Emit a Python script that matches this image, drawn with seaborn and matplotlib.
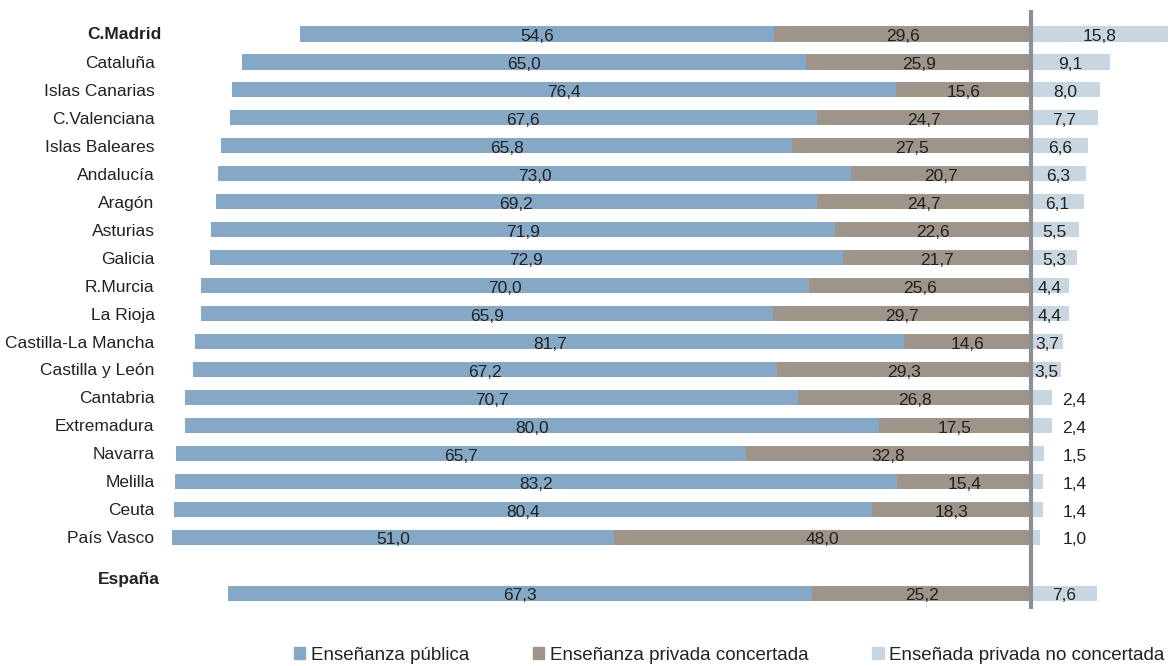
import matplotlib
matplotlib.use("Agg")
import matplotlib.pyplot as plt
import seaborn as sns
import pandas as pd
import numpy as np
from matplotlib.patches import Patch

regions = ["C.Madrid", "Cataluña", "Islas Canarias", "C.Valenciana", "Islas Baleares",
           "Andalucía", "Aragón", "Asturias", "Galicia", "R.Murcia", "La Rioja",
           "Castilla-La Mancha", "Castilla y León", "Cantabria", "Extremadura",
           "Navarra", "Melilla", "Ceuta", "País Vasco", "España"]
publica = [54.6, 65.0, 76.4, 67.6, 65.8, 73.0, 69.2, 71.9, 72.9, 70.0, 65.9,
           81.7, 67.2, 70.7, 80.0, 65.7, 83.2, 80.4, 51.0, 67.3]
concertada = [29.6, 25.9, 15.6, 24.7, 27.5, 20.7, 24.7, 22.6, 21.7, 25.6, 29.7,
              14.6, 29.3, 26.8, 17.5, 32.8, 15.4, 18.3, 48.0, 25.2]
no_concertada = [15.8, 9.1, 8.0, 7.7, 6.6, 6.3, 6.1, 5.5, 5.3, 4.4, 4.4,
                 3.7, 3.5, 2.4, 2.4, 1.5, 1.4, 1.4, 1.0, 7.6]
series_names = ["Enseñanza pública", "Enseñanza privada concertada",
                "Enseñada privada no concertada"]
bold_regions = ["C.Madrid", "España"]

c_pub = "#85a8c6"
c_con = "#9e948a"
c_priv = "#c8d6e2"
txt = "#222222"

sns.set_style("white")
plt.rcParams["font.family"] = ["Liberation Sans", "DejaVu Sans"]

df = pd.DataFrame({"region": regions, "pub": publica, "con": concertada, "priv": no_concertada})
df["neg_total"] = -(df["pub"] + df["con"])
df["neg_con"] = -df["con"]
blank = pd.DataFrame({"region": [" "], "pub": [np.nan], "con": [np.nan], "priv": [np.nan],
                      "neg_total": [np.nan], "neg_con": [np.nan]})
df_all = pd.concat([df.iloc[:-1], blank, df.iloc[-1:]], ignore_index=True)
order = list(df_all["region"])

W, H = 1173, 666
fig = plt.figure(figsize=(W / 100, H / 100), dpi=100)
ax_left = 165
ax = fig.add_axes([ax_left / W, 1 - 609 / H, 1 - ax_left / W, (609 - 10) / H])

kw = dict(data=df_all, y="region", order=order, errorbar=None, width=0.54,
          linewidth=0, ax=ax, orient="h", saturation=1)
sns.barplot(x="neg_total", color=c_pub, **kw)
sns.barplot(x="neg_con", color=c_con, **kw)
sns.barplot(x="priv", color=c_priv, **kw)

ax.set_xlim(-99.77, 16.36)
ax.set_ylim(20.57, -0.86)
ax.axvline(0, color="#8e8f96", lw=3, zorder=5)

for s in ax.spines.values():
    s.set_visible(False)
ax.set_xticks([])
ax.set_xlabel("")
ax.set_ylabel("")

ticks = list(range(len(order)))
labels = [r if r not in bold_regions else "" for r in order]
ax.set_yticks(ticks)
ax.set_yticklabels(labels, fontsize=12.5, color=txt)
ax.tick_params(axis="y", length=0, pad=7.5)

axw = W - ax_left
ytr = ax.get_yaxis_transform()
ax.text(-3 / axw, order.index("C.Madrid"), "C.Madrid", transform=ytr, ha="right",
        va="center", fontsize=12.5, fontweight="bold", color=txt, clip_on=False)
ax.text(-5 / axw, order.index("España") - 0.5, "España", transform=ytr, ha="right",
        va="center", fontsize=12.5, fontweight="bold", color=txt, clip_on=False)

dy = 0.1
for i, r in enumerate(order):
    if r == " ":
        continue
    row = df_all.iloc[i]
    p, c, q = row["pub"], row["con"], row["priv"]
    ax.text(-(c + p / 2), i + dy, f"{p:.1f}".replace(".", ","), ha="center", va="center",
            fontsize=12.5, color=txt, zorder=6)
    ax.text(-c / 2, i + dy, f"{c:.1f}".replace(".", ","), ha="center", va="center",
            fontsize=12.5, color=txt, zorder=6)
    xq = q / 2 if q >= 3 else 5.0
    ax.text(xq, i + dy, f"{q:.1f}".replace(".", ","), ha="center", va="center",
            fontsize=12.5, color=txt, zorder=6)

handles = [Patch(color=c_pub), Patch(color=c_con), Patch(color=c_priv)]
leg = fig.legend(handles, series_names, loc="center left", bbox_to_anchor=(294 / W, 1 - 655 / H),
                 ncol=3, frameon=False, fontsize=13.5, handlelength=0.6, handleheight=0.6,
                 handletextpad=0.3, columnspacing=3.4, borderpad=0, borderaxespad=0)
for t in leg.get_texts():
    t.set_color(txt)

fig.savefig("out.png", dpi=100)
